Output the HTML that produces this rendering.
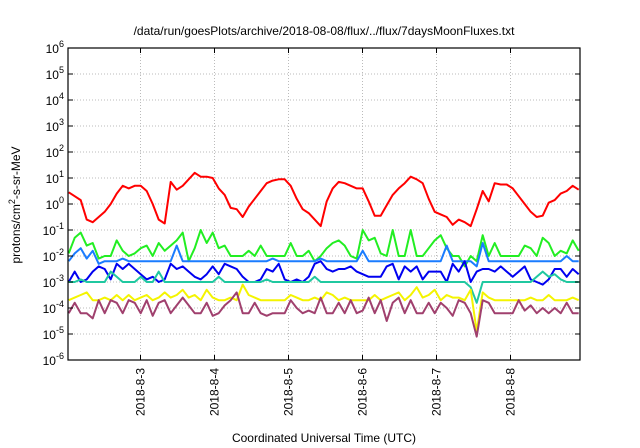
<!DOCTYPE html>
<html><head><meta charset="utf-8"><style>
html,body{margin:0;padding:0;background:#fff;}
svg{display:block;font-family:"Liberation Sans",sans-serif;}
</style></head><body>
<svg id="chart" width="640" height="448" viewBox="0 0 640 448" xmlns="http://www.w3.org/2000/svg">
<rect width="640" height="448" fill="#fff"/>
<text x="324" y="35" font-size="12" text-anchor="middle">/data/run/goesPlots/archive/2018-08-08/flux/../flux/7daysMoonFluxes.txt</text>
<g id="grid"></g>
<g id="series"></g>
<g id="axes"></g>
<text x="324" y="442" font-size="12" text-anchor="middle">Coordinated Universal Time (UTC)</text>
<text transform="translate(20,205) rotate(-90)" font-size="12" text-anchor="middle">protons/cm<tspan dy="-5" font-size="9">2</tspan><tspan dy="5">-s-sr-MeV</tspan></text>
</svg>
<script>
// data (log10 of flux), one sample every ~2 hours starting 2018-08-02 ~00:45 UTC
const startDay = 2.03;
const stepDays = 6/74;
const dayTicks = [3,4,5,6,7,8];
const dayLabels = ["2018-8-3","2018-8-4","2018-8-5","2018-8-6","2018-8-7","2018-8-8"];
const yExp = [-6,-5,-4,-3,-2,-1,0,1,2,3,4,5,6];
const redLog = [0.45,0.3,0.15,-0.6,-0.7,-0.5,-0.3,0.0,0.4,0.7,0.6,0.7,0.7,0.5,0.0,-0.6,-0.75,0.85,0.55,0.7,0.95,1.2,1.05,1.05,1.0,0.6,0.35,-0.15,-0.2,-0.5,-0.1,0.2,0.5,0.8,0.9,0.95,0.95,0.7,0.2,-0.2,-0.35,-0.6,-0.85,0.1,0.6,0.85,0.8,0.7,0.6,0.6,0.1,-0.45,-0.45,-0.05,0.35,0.6,0.8,1.05,0.95,0.8,0.2,-0.3,-0.4,-0.5,-0.8,-0.6,-0.7,-0.85,-0.2,0.5,0.1,0.8,0.75,0.75,0.6,0.3,0.0,-0.3,-0.5,-0.45,0.05,0.15,0.4,0.5,0.7,0.55];
const greenLog = [-1.9,-1.3,-1.1,-1.6,-1.5,-2.1,-2.0,-2.0,-1.4,-1.8,-2.0,-1.9,-1.7,-1.6,-2.0,-1.5,-1.8,-1.6,-1.4,-1.1,-2.2,-1.7,-1.0,-1.5,-1.1,-1.7,-1.6,-2.0,-2.0,-2.0,-1.8,-2.0,-1.6,-2.0,-2.0,-2.0,-2.0,-1.5,-2.0,-2.0,-1.8,-2.2,-2.0,-1.7,-1.5,-1.4,-1.6,-2.0,-2.1,-1.0,-1.4,-1.3,-1.9,-2.0,-1.0,-2.0,-2.0,-1.0,-2.0,-2.0,-1.7,-1.4,-1.2,-1.7,-2.0,-2.0,-2.4,-2.0,-2.2,-1.2,-2.0,-1.5,-2.0,-2.0,-2.0,-2.0,-1.6,-1.7,-2.0,-1.3,-1.5,-2.0,-1.8,-1.9,-1.4,-1.8];
const lightBlueLog = [-2.2,-1.9,-1.7,-2.1,-1.8,-2.3,-2.2,-2.2,-2.2,-2.1,-2.2,-2.2,-2.2,-2.2,-2.2,-2.2,-2.2,-2.2,-1.6,-2.2,-2.2,-2.2,-2.2,-2.2,-2.2,-2.2,-2.2,-2.2,-2.2,-2.2,-2.2,-2.2,-2.2,-2.2,-2.1,-2.2,-2.2,-2.2,-2.2,-2.2,-2.2,-2.2,-2.1,-2.2,-2.2,-2.2,-2.2,-2.2,-2.2,-1.8,-2.2,-2.2,-2.2,-2.2,-2.2,-2.2,-2.2,-2.2,-2.2,-2.2,-2.2,-2.2,-2.2,-1.6,-2.2,-2.2,-2.2,-2.2,-2.4,-1.5,-2.2,-2.2,-2.2,-2.2,-2.2,-2.2,-2.2,-2.2,-2.2,-2.2,-2.2,-2.2,-2.2,-2.0,-2.2,-2.2];
const blueLog = [-3.0,-2.6,-3.0,-2.9,-2.6,-2.4,-2.5,-2.9,-2.3,-2.5,-2.3,-2.5,-2.7,-2.9,-2.8,-3.0,-2.9,-2.3,-2.5,-2.4,-2.6,-2.8,-2.9,-2.7,-2.4,-2.7,-2.3,-2.4,-2.5,-2.8,-3.0,-3.0,-2.9,-2.5,-2.6,-2.3,-2.9,-3.0,-2.9,-3.0,-2.8,-2.3,-2.2,-2.5,-2.6,-2.5,-2.5,-2.4,-2.6,-2.7,-2.8,-2.8,-2.8,-2.4,-2.3,-2.9,-2.4,-2.6,-2.4,-2.9,-2.6,-2.6,-2.6,-3.0,-2.3,-2.6,-2.2,-3.0,-2.6,-2.5,-2.5,-2.6,-2.4,-2.6,-2.8,-2.6,-2.4,-2.9,-3.0,-3.1,-2.9,-2.5,-2.5,-2.8,-2.5,-2.7];
const tealLog = [-3.0,-3.0,-2.9,-3.0,-3.0,-3.0,-3.0,-2.6,-2.8,-3.0,-3.0,-3.0,-2.8,-3.0,-3.0,-2.6,-3.0,-3.0,-3.0,-3.0,-3.0,-3.0,-3.0,-3.0,-3.0,-2.8,-3.0,-3.0,-3.0,-3.0,-3.0,-3.0,-3.0,-2.9,-3.0,-3.0,-3.0,-3.0,-3.0,-3.0,-3.0,-2.8,-3.0,-3.0,-3.0,-3.0,-3.0,-3.0,-3.0,-3.0,-3.0,-3.0,-3.0,-3.0,-3.0,-3.0,-3.0,-3.0,-3.0,-3.0,-3.0,-3.0,-3.0,-3.0,-3.0,-3.0,-3.0,-3.2,-3.8,-3.0,-3.0,-3.0,-3.0,-3.0,-3.0,-3.0,-3.0,-3.0,-2.8,-2.6,-2.8,-2.7,-2.9,-3.0,-3.0,-3.0];
const yellowLog = [-3.7,-3.6,-3.5,-3.4,-3.7,-3.7,-3.6,-3.7,-3.5,-3.7,-3.5,-3.7,-3.6,-3.5,-3.7,-3.6,-3.4,-3.6,-3.5,-3.3,-3.6,-3.5,-3.7,-3.3,-3.6,-3.7,-3.7,-3.6,-3.7,-3.1,-3.5,-3.6,-3.7,-3.7,-3.7,-3.7,-3.7,-3.5,-3.6,-3.7,-3.7,-3.6,-3.7,-3.4,-3.5,-3.7,-3.6,-3.7,-3.7,-3.7,-3.7,-3.5,-3.7,-3.6,-3.5,-3.4,-3.7,-3.5,-3.2,-3.6,-3.5,-3.3,-3.7,-3.5,-3.6,-3.6,-3.7,-3.3,-4.9,-3.4,-3.6,-3.7,-3.7,-3.7,-3.7,-3.7,-3.7,-3.6,-3.7,-3.7,-3.5,-3.7,-3.7,-3.7,-3.6,-3.7];
const purpleLog = [-4.2,-3.8,-4.2,-4.2,-4.4,-3.7,-4.2,-3.7,-3.8,-4.2,-3.7,-3.8,-4.2,-3.7,-4.3,-3.8,-3.7,-4.2,-3.9,-3.6,-3.9,-4.2,-4.2,-3.8,-4.3,-4.2,-3.9,-3.7,-3.4,-4.2,-4.2,-3.8,-4.2,-4.3,-4.2,-4.2,-4.2,-3.7,-4.0,-4.2,-4.1,-4.2,-3.6,-4.2,-4.2,-3.8,-4.2,-3.7,-4.2,-4.1,-3.6,-4.2,-3.7,-4.5,-3.8,-3.6,-4.2,-3.7,-4.2,-4.2,-3.8,-4.2,-3.8,-4.0,-4.3,-3.7,-3.8,-4.2,-5.1,-3.7,-3.8,-4.2,-4.2,-4.2,-4.2,-3.7,-4.1,-3.9,-4.2,-4.0,-4.2,-4.0,-4.2,-3.8,-4.2,-4.2];

const L=68,R=580,T=48,B=360;
const day0=2+(68-66)/74, xDayPx=74;
function xScale(d){return 140.5+(d-3)*xDayPx;}
function yScale(e){return B-(e+6)*(B-T)/12;}
const NS="http://www.w3.org/2000/svg";
function mk(tag,attrs,parent){const e=document.createElementNS(NS,tag);for(const k in attrs)e.setAttribute(k,attrs[k]);parent.appendChild(e);return e;}
const grid=document.getElementById('grid'),axes=document.getElementById('axes'),ser=document.getElementById('series');
yExp.forEach(e=>{
  const y=yScale(e);
  if(e>-6&&e<6){const g=mk('line',{x1:L,x2:R,y1:y,y2:y,stroke:'#bbb','stroke-dasharray':'1,2','stroke-width':1},grid);
  
  }
  const t=mk('text',{x:L-4,y:y+5,'font-size':12,'text-anchor':'end'},axes);
  
  
  t.innerHTML='10<tspan dy="-6" font-size="9">'+e+'</tspan>';
  mk('line',{x1:L,x2:L+5,y1:y,y2:y,stroke:'#000'},axes);
  mk('line',{x1:R,x2:R-5,y1:y,y2:y,stroke:'#000'},axes);
});
dayTicks.forEach((d,i)=>{
  const x=xScale(d);
  const g=mk('line',{x1:x,x2:x,y1:T,y2:B,stroke:'#bbb','stroke-dasharray':'1,2','stroke-width':1},grid);
  
  
  mk('line',{x1:x,x2:x,y1:B,y2:B-5,stroke:'#000'},axes);
  mk('line',{x1:x,x2:x,y1:T,y2:T+5,stroke:'#000'},axes);
  const t=mk('text',{transform:'translate('+(x+4)+',368) rotate(-90)','font-size':12,'text-anchor':'end'},axes);
  
  
  t.textContent=dayLabels[i];
});
const fr=mk('rect',{x:L,y:T,width:R-L,height:B-T,fill:'none',stroke:'#000','stroke-width':1.2},axes);


const series=[["red-flux",redLog,"#ff0000"],["green-flux",greenLog,"#22ee22"],["light-blue-flux",lightBlueLog,"#1a7cff"],["dark-blue-flux",blueLog,"#0000f0"],["teal-flux",tealLog,"#20c8a0"],["yellow-flux",yellowLog,"#f4f400"],["purple-flux",purpleLog,"#a0406e"]];
series.forEach(([name,vals,col])=>{
  const pts=vals.map((v,i)=>{const d=startDay+i*stepDays;return Math.min(R,xScale(d)).toFixed(1)+','+yScale(v).toFixed(1);}).join(' ');
  const p=mk('polyline',{points:pts,fill:'none',stroke:col,'stroke-width':2,'stroke-linejoin':'round'},ser);
  
  
});
</script>
</body></html>
